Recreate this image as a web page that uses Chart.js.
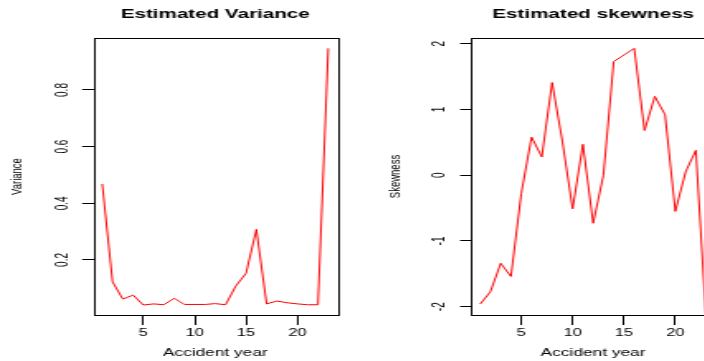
<!DOCTYPE html>
<html>
<head>
<meta charset="utf-8">
<script src="https://cdn.jsdelivr.net/npm/chart.js@4.4.1/dist/chart.umd.min.js"></script>
<style>
  html, body { margin: 0; padding: 0; background: #fff; overflow: hidden; width: 704px; height: 361px; }
  /* the reference is an R plot stretched sideways, so each panel is drawn narrow and scaled */
  .panel { position: absolute; top: 0; height: 361px; transform: scaleX(1.65); transform-origin: 0 0; }
</style>
</head>
<body>
<div class="panel" style="left:0"><canvas id="varChart" width="214" height="361"></canvas></div>
<div class="panel" style="left:352px"><canvas id="skewChart" width="240" height="361"></canvas></div>
<script>
var years = [1, 2, 3, 4, 5, 6, 7, 8, 9, 10, 11, 12, 13, 14, 15, 16, 17, 18, 19, 20, 21, 22, 23];
var variance = [0.468, 0.123, 0.062, 0.076, 0.041, 0.045, 0.042, 0.065, 0.043, 0.043, 0.043, 0.046,
  0.042, 0.108, 0.153, 0.308, 0.045, 0.055, 0.049, 0.045, 0.042, 0.042, 0.947];
var skewness = [-1.96, -1.77, -1.34, -1.54, -0.28, 0.58, 0.28, 1.41, 0.52, -0.51, 0.47, -0.73,
  0.0, 1.73, 1.83, 1.93, 0.68, 1.20, 0.92, -0.55, 0.05, 0.38, -2.2];
var xTicks = [5, 10, 15, 20];
var varTicks = [0.2, 0.4, 0.6, 0.8];
var skewTicks = [-2, -1, 0, 1, 2];

var FONT = '"Liberation Sans", Arial, Helvetica, sans-serif';

// R draws a full frame round the plot region
var boxPlugin = {
  id: 'box',
  afterDatasetsDraw: function (chart) {
    var a = chart.chartArea, ctx = chart.ctx;
    ctx.save();
    ctx.strokeStyle = '#000';
    ctx.lineWidth = 1;
    ctx.strokeRect(Math.round(a.left) + 0.5, Math.round(a.top) + 0.5,
      Math.round(a.right - a.left), Math.round(a.bottom - a.top));
    ctx.restore();
  }
};

function fixedTicks(list) {
  return function (scale) {
    scale.ticks = list.map(function (v) { return { value: v }; });
  };
}

function makeChart(id, title, yTitle, values, yMin, yMax, yTicks, opt) {
  return new Chart(document.getElementById(id), {
    type: 'line',
    data: {
      datasets: [{
        data: years.map(function (x, i) { return { x: x, y: values[i] }; }),
        borderColor: '#ff0000',
        borderWidth: 1,
        pointRadius: 0,
        tension: 0,
        fill: false
      }]
    },
    plugins: [boxPlugin],
    options: {
      responsive: false,
      animation: false,
      devicePixelRatio: 1,
      layout: { padding: { left: 0, right: opt.rightPad, top: 0, bottom: 0 } },
      plugins: {
        legend: { display: false },
        tooltip: { enabled: false },
        title: {
          display: true,
          text: title,
          fullSize: false,
          color: '#000',
          font: { family: FONT, size: 12.5, weight: 'bold' },
          padding: { top: 7.5, bottom: 15.5 }
        }
      },
      scales: {
        x: {
          type: 'linear',
          min: 0.12,
          max: 23.88,
          afterBuildTicks: fixedTicks(xTicks),
          afterFit: function (s) { s.height = 46; },
          grid: { drawOnChartArea: false, tickLength: 10, tickColor: '#000', lineWidth: 1 },
          border: { display: false },
          ticks: { color: '#000', font: { family: FONT, size: 10 }, padding: 2, minRotation: 0, maxRotation: 0 },
          title: { display: true, text: 'Accident year', color: '#000',
            font: { family: FONT, size: 10.5 }, padding: { top: 0, bottom: 2 } }
        },
        y: {
          type: 'linear',
          min: yMin,
          max: yMax,
          afterBuildTicks: fixedTicks(yTicks),
          afterFit: function (s) { s.width = opt.yWidth; },
          grid: { drawOnChartArea: false, tickLength: 6.7, tickColor: '#000', lineWidth: 1 },
          border: { display: false },
          ticks: { color: '#000', font: { family: FONT, size: 10 }, padding: opt.tickPad,
            minRotation: 90, maxRotation: 90, crossAlign: 'center' },
          title: { display: true, text: yTitle, color: '#000',
            font: { family: FONT, size: 9.5 }, padding: { top: opt.titlePad, bottom: 0 } }
        }
      }
    }
  });
}

makeChart('varChart', 'Estimated Variance', 'Variance', variance, 0.0058, 0.9835, varTicks,
  { yWidth: 56.5, rightPad: 9.6, tickPad: 4.8, titlePad: 5 });
makeChart('skewChart', 'Estimated skewness', 'Skewness', skewness, -2.126, 2.088, skewTicks,
  { yWidth: 72.2, rightPad: 19.9, tickPad: 8, titlePad: 20.6 });
</script>
</body>
</html>
